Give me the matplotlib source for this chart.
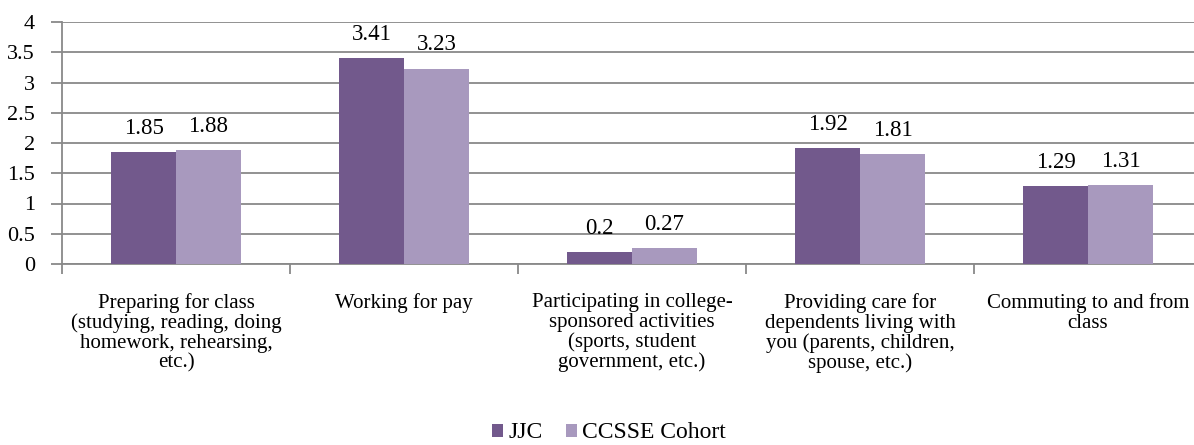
import matplotlib.pyplot as plt
import numpy as np

# ------------------------------------------------------------
# data
# ------------------------------------------------------------
categories = [
    "Preparing for class\n(studying, reading, doing\nhomework, rehearsing,\netc.)",
    "Working for pay",
    "Participating in college-\nsponsored activities\n(sports, student\ngovernment, etc.)",
    "Providing care for\ndependents living with\nyou (parents, children,\nspouse, etc.)",
    "Commuting to and from\nclass",
]
jjc = [1.85, 3.41, 0.2, 1.92, 1.29]
ccsse = [1.88, 3.23, 0.27, 1.81, 1.31]
jjc_labels = ["1.85", "3.41", "0.2", "1.92", "1.29"]
ccsse_labels = ["1.88", "3.23", "0.27", "1.81", "1.31"]

plt.rcParams['font.family'] = ['Liberation Serif', 'DejaVu Serif']

fig = plt.figure(figsize=(11.94, 4.45), dpi=100)
ax = fig.add_axes([62 / 1194, (445 - 264) / 445, 1140 / 1194, 242 / 445])

x = np.arange(len(categories))
w = 0.285
c1 = '#72598C'
c2 = '#A899BE'
grey = '#898989'
b1 = ax.bar(x - w / 2, jjc, w, color=c1, label='JJC', zorder=3)
b2 = ax.bar(x + w / 2, ccsse, w, color=c2, label='CCSSE Cohort', zorder=3)

for bars, labs in [(b1, jjc_labels), (b2, ccsse_labels)]:
    for rect, lab in zip(bars, labs):
        ax.text(rect.get_x() + rect.get_width() / 2, rect.get_height() + 0.3, lab,
                ha='center', va='baseline', fontsize=16.5)

ax.set_xlim(-0.5, len(categories) - 0.5)
ax.set_ylim(0, 4)
ax.set_yticks(np.arange(0, 4.01, 0.5))
ax.set_yticklabels(['0', '0.5', '1', '1.5', '2', '2.5', '3', '3.5', '4'])
ax.grid(True, axis='y', color=grey, linewidth=1.3, zorder=0)

# category boundaries as tick marks, labels centred in between
ax.set_xticks(np.arange(-0.5, len(categories), 1.0))
ax.set_xticklabels([])
ax.set_xticks(x, minor=True)
ax.set_xticklabels(categories, minor=True, fontsize=15, linespacing=1.04, va='top')
ax.tick_params(axis='x', which='minor', length=0, pad=21)
ax.tick_params(axis='x', which='major', length=7, color=grey, width=1.3)
ax.tick_params(axis='y', length=8, color=grey, width=1.3, labelsize=16, pad=11.5)

for s in ['top', 'right']:
    ax.spines[s].set_visible(False)
for s in ['left', 'bottom']:
    ax.spines[s].set_color(grey)
    ax.spines[s].set_linewidth(1.3)

fig.legend(handles=[b1, b2], loc='center', bbox_to_anchor=(609 / 1194, 1 - 433 / 445),
           ncol=2, frameon=False, fontsize=17, handlelength=0.47, handleheight=0.47,
           handletextpad=0.2, columnspacing=1.0)

plt.savefig('out.png', dpi=100)
